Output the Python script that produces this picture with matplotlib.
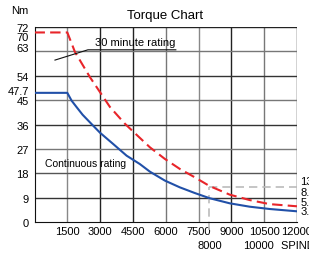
import matplotlib
matplotlib.use("Agg")
import matplotlib.pyplot as plt
from matplotlib.transforms import blended_transform_factory, ScaledTranslation

plt.rcParams['font.family'] = ['Liberation Sans', 'DejaVu Sans']

# 30 minute rating (red dashed)
rpm_30 = [0, 1500, 1849, 2534, 2991, 3447, 4132, 4589, 5274, 5959, 6644, 7329, 8000,
          8927, 9840, 10753, 12000]
nm_30 = [70, 70, 62.8, 53.5, 48.0, 42.5, 36.3, 32.8, 27.6, 23.3, 19.6, 16.5, 13.3,
         10.1, 8.1, 6.6, 5.8]

# continuous rating (blue)
rpm_cont = [0, 1500, 1697, 1927, 2200, 2534, 2991, 3598, 4210, 4817, 5274, 5959, 6644,
            7329, 8000, 8927, 9840, 10753, 12000]
nm_cont = [47.7, 47.7, 44.8, 42.4, 39.6, 36.8, 33.0, 28.8, 24.5, 21.4, 18.6, 15.3, 12.8,
           10.7, 8.8, 6.9, 5.65, 4.8, 3.95]

x_ticks = [1500, 3000, 4500, 6000, 7500, 9000, 10500, 12000]
y_ticks = [0, 9, 18, 27, 36, 45, 47.7, 54, 63, 70, 72]
y_labels = ['0', '9', '18', '27', '36', '45', '47.7', '54', '63', '70', '72']
y_grid = [9, 18, 27, 36, 45, 54, 63, 72]
right_labels = ["13.5", "8.7", "5.8", "3.9"]
right_label_y = [15.2, 11.2, 7.3, 3.9]
second_row = [(8000, "8000"), (10250, "10000")]

fig = plt.figure(figsize=(3.09, 2.55), dpi=100)
ax = fig.add_axes([0.1117, 0.1255, 0.961 - 0.1117, 0.890 - 0.1255])
ax.set_xlim(0, 12000)
ax.set_ylim(0, 72)

# grid, mixed dark and grey lines like the original
vcols = ['#888888', '#222222', '#222222', '#777777', '#888888', '#222222', '#777777', '#222222']
for x, c in zip(x_ticks, vcols):
    ax.axvline(x, color=c, lw=1.0, zorder=1)
hcols = ['#333333', '#555555', '#777777', '#333333', '#777777', '#333333', '#777777', '#222222']
for y, c in zip(y_grid, hcols):
    ax.axhline(y, color=c, lw=1.0, zorder=1)

# reference lines at 8000 rpm
ax.plot([8000, 8000], [-3, 13], color='#bbbbbb', lw=1.2, ls=(0, (5, 3)), clip_on=False, zorder=2)
ax.plot([8000, 12000], [13, 13], color='#bbbbbb', lw=1.2, ls=(0, (5, 3)), clip_on=False, zorder=2)

ax.plot(rpm_cont, nm_cont, color='#2150a8', lw=1.5, zorder=3)
ax.plot(rpm_30, nm_30, color='#e8252a', lw=1.5, ls=(0, (5, 2.5)), zorder=3)

ax.set_xticks(x_ticks)
ax.set_xticklabels([str(v) for v in x_ticks], fontsize=8)
ax.set_yticks(y_ticks)
ax.set_yticklabels(y_labels, fontsize=8)
ax.tick_params(axis='y', length=0, pad=4)
ax.tick_params(axis='x', length=0, pad=3)
# the crowded labels are nudged apart in the original
nudge = {'70': -0.04, '63': 0.04, '47.7': 0.03}
for lab in ax.get_yticklabels():
    dy = nudge.get(lab.get_text(), 0)
    if dy:
        lab.set_transform(lab.get_transform() + ScaledTranslation(0, dy, fig.dpi_scale_trans))
for s in ['top', 'right']:
    ax.spines[s].set_visible(False)
for s in ['left', 'bottom']:
    ax.spines[s].set_color('#111111')

tr = blended_transform_factory(ax.transData, ax.transAxes)
for x, t in second_row:
    ax.text(x, -0.12, t, transform=tr, ha='center', va='center', fontsize=8)
ax.text(11256, -0.12, "SPINDLE SPEED", transform=tr, ha='left', va='center', fontsize=8)

for t, y in zip(right_labels, right_label_y):
    ax.text(12150, y, t, ha='left', va='center', fontsize=8, clip_on=False)

ax.text(-0.025, 1.085, "Nm", transform=ax.transAxes, ha='right', va='center', fontsize=8)
fig.text(0.535, 0.937, "Torque Chart", ha='center', va='center', fontsize=9.5)

ax.text(2750, 64.6, "30 minute rating", fontsize=8, ha='left', va='bottom', zorder=4)
ax.plot([936, 2443, 6461], [59.8, 63.6, 63.6], color='#111111', lw=0.8, zorder=4)
ax.text(480, 21.8, "Continuous rating", fontsize=7.5, ha='left', va='center', zorder=4)

fig.savefig("out.png", dpi=100)
